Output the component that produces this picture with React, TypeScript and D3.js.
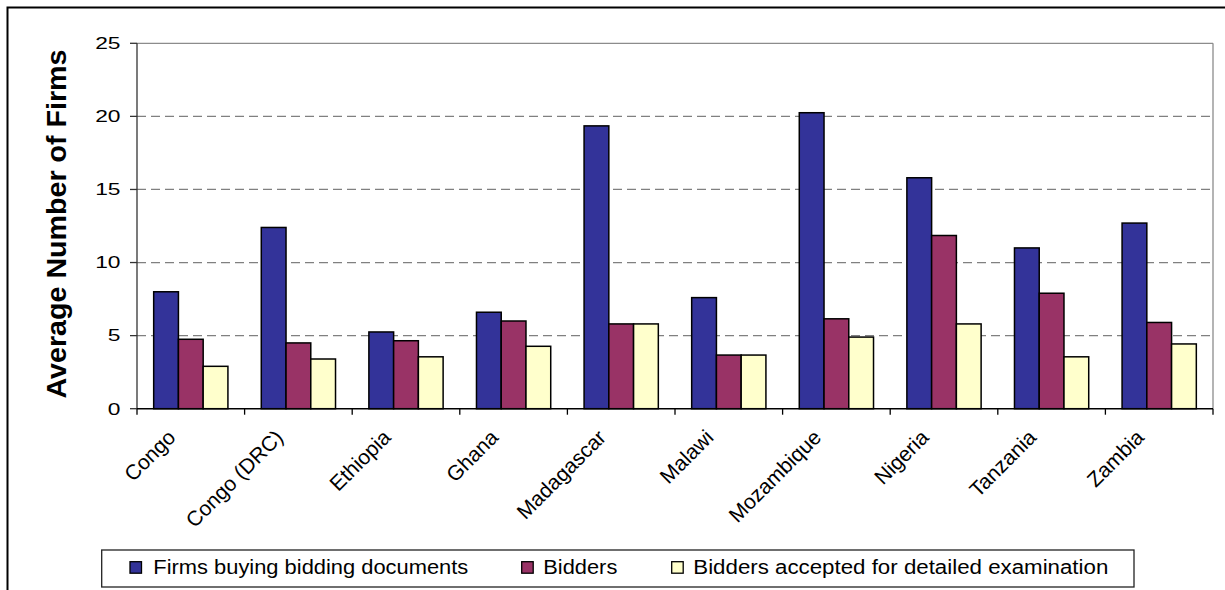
import React from "react";
import * as d3 from "d3";

const categories = ["Congo", "Congo (DRC)", "Ethiopia", "Ghana", "Madagascar", "Malawi", "Mozambique", "Nigeria", "Tanzania", "Zambia"];
const seriesNames = ["Firms buying bidding documents", "Bidders", "Bidders accepted for detailed examination"];
const firmsBuying = [8.0, 12.4, 5.25, 6.6, 19.35, 7.6, 20.25, 15.8, 11.0, 12.7];
const bidders = [4.75, 4.5, 4.65, 6.0, 5.8, 3.67, 6.15, 11.85, 7.9, 5.9];
const biddersAccepted = [2.9, 3.4, 3.55, 4.27, 5.8, 3.67, 4.9, 5.8, 3.55, 4.43];
const yTicks = [0, 5, 10, 15, 20, 25];
const colors = ["#333399", "#993366", "#FFFFCC"];
const yTitle = "Average Number of Firms";

const W = 1225;
const H = 590;
const plot = { left: 137, right: 1213, top: 43.3, bottom: 408.7 };

export default function App() {
  const seriesValues = [firmsBuying, bidders, biddersAccepted];
  const x0 = d3
    .scaleBand<string>()
    .domain(categories)
    .range([plot.left, plot.right])
    .paddingInner(0.31)
    .paddingOuter(0.155);
  const x1 = d3
    .scaleBand<string>()
    .domain(seriesNames)
    .range([0, x0.bandwidth()]);
  const y = d3.scaleLinear().domain([0, 25]).range([plot.bottom, plot.top]);
  const step = x0.step();
  const boundaries = d3.range(categories.length + 1).map((i) => plot.left + i * step);

  const legendItems = [
    { marker: 130, text: 153.3, len: 315 },
    { marker: 521.7, text: 543.3, len: 74 },
    { marker: 671.7, text: 693.3, len: 415 },
  ];

  const font = "'Liberation Sans', Arial, sans-serif";

  return (
    <svg
      width={W}
      height={H}
      style={{ position: "absolute", left: 0, top: 0, background: "#fff" }}
      fontFamily={font}
    >
      <rect x={0} y={0} width={W} height={H} fill="#fff" />
      {/* outer frame */}
      <rect x={7.5} y={7.5} width={1240} height={620} fill="none" stroke="#000" strokeWidth={2} />

      {/* gridlines */}
      {yTicks
        .filter((t) => t > 0 && t < 25)
        .map((t) => (
          <line
            key={"g" + t}
            x1={plot.left}
            x2={plot.right}
            y1={y(t)}
            y2={y(t)}
            stroke="#808080"
            strokeWidth={1.2}
            strokeDasharray="9,5"
          />
        ))}
      {/* plot area border top/right */}
      <line x1={plot.left} x2={plot.right} y1={plot.top} y2={plot.top} stroke="#8c8c8c" strokeWidth={1.3} />
      <line x1={plot.right} x2={plot.right} y1={plot.top} y2={plot.bottom} stroke="#8c8c8c" strokeWidth={1.3} />

      {/* bars */}
      {categories.map((c, i) => (
        <g key={c}>
          {seriesNames.map((s, j) => {
            const v = seriesValues[j][i];
            const bx = (x0(c) as number) + (x1(s) as number);
            return (
              <rect
                key={s}
                x={bx}
                y={y(v)}
                width={x1.bandwidth()}
                height={y(0) - y(v)}
                fill={colors[j]}
                stroke="#000"
                strokeWidth={1.5}
              />
            );
          })}
        </g>
      ))}

      {/* y axis */}
      <line x1={plot.left} x2={plot.left} y1={plot.top} y2={plot.bottom} stroke="#333" strokeWidth={1.3} />
      {yTicks.map((t) => (
        <g key={"t" + t}>
          <line x1={plot.left - 7} x2={plot.left} y1={y(t)} y2={y(t)} stroke="#333" strokeWidth={1.3} />
          <text
            transform={`translate(120.5, ${y(t) + 5.8}) scale(1.38, 1)`}
            textAnchor="end"
            fontSize={16.5}
            fill="#000"
          >
            {t}
          </text>
        </g>
      ))}

      {/* x axis */}
      <line x1={plot.left} x2={plot.right} y1={plot.bottom} y2={plot.bottom} stroke="#000" strokeWidth={1.5} />
      {boundaries.map((bx, i) => (
        <line key={"xb" + i} x1={bx} x2={bx} y1={plot.bottom} y2={plot.bottom + 6} stroke="#000" strokeWidth={1.3} />
      ))}
      {categories.map((c) => {
        const cx = (x0(c) as number) + x0.bandwidth() / 2;
        return (
          <text
            key={"l" + c}
            transform={`translate(${cx - 14}, ${plot.bottom + 30}) rotate(-45)`}
            textAnchor="end"
            fontSize={21}
            fill="#000"
          >
            {c}
          </text>
        );
      })}

      {/* y title */}
      <text
        transform={`translate(66, 224) rotate(-90)`}
        textAnchor="middle"
        fontSize={27.5}
        fontWeight="bold"
        textLength={349}
        lengthAdjust="spacingAndGlyphs"
        fill="#000"
      >
        {yTitle}
      </text>

      {/* legend */}
      <rect x={101.7} y={550} width={1032.3} height={37} fill="#fff" stroke="#222" strokeWidth={1.3} />
      {seriesNames.map((s, j) => (
        <g key={"lg" + s}>
          <rect
            x={legendItems[j].marker}
            y={561.7}
            width={11.5}
            height={11.5}
            fill={colors[j]}
            stroke="#000"
            strokeWidth={1.3}
          />
          <text
            x={legendItems[j].text}
            y={573.5}
            fontSize={20}
            textLength={legendItems[j].len}
            lengthAdjust="spacingAndGlyphs"
            fill="#000"
          >
            {s}
          </text>
        </g>
      ))}
    </svg>
  );
}
